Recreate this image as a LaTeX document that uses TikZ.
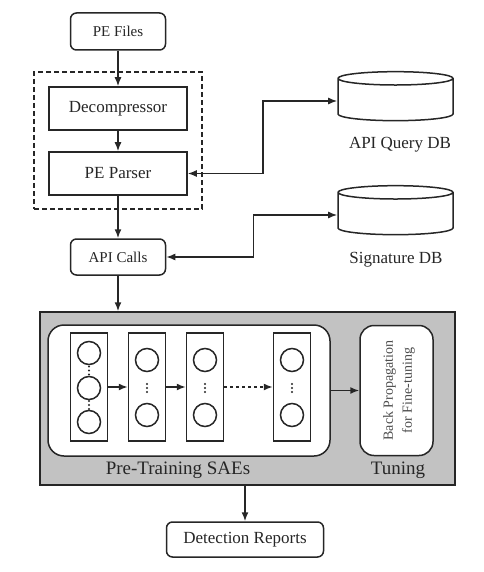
\documentclass[tikz,border=0pt]{standalone}
\usepackage{fontspec}
\setmainfont{Liberation Serif}
\usetikzlibrary{shapes.geometric,arrows.meta}

\newlength{\du}
\setlength{\du}{1pt}

\definecolor{ink}{rgb}{0.150000, 0.150000, 0.150000}
\definecolor{panelgray}{rgb}{0.760000, 0.760000, 0.760000}

\tikzset{
  >={Latex[length=9pt,width=7pt]},
  pebox/.style={draw, fill=white, rounded corners=6\du, minimum width=95\du, minimum height=37\du, font=\fontsize{15}{18}\selectfont},
  stagebox/.style={draw, minimum width=138\du, minimum height=43\du, font=\fontsize{17}{20}\selectfont},
  dbcyl/.style={draw, cylinder, shape border rotate=90, aspect=2, minimum width=115\du, minimum height=49\du},
  dblabel/.style={font=\fontsize{17}{20}\selectfont},
  layerbox/.style={draw, minimum width=37\du, minimum height=108\du},
  unitnode/.style={draw, circle, minimum size=23\du, inner sep=0pt},
  panel/.style={draw, fill=white, rounded corners=16\du},
  flow/.style={->},
  sync/.style={<->},
}

\begin{document}
\begin{tikzpicture}[color=ink, line width=1.5\du]
\pgftransformxscale{1.000000}
\pgftransformyscale{-1.000000}
\useasboundingbox (0\du,0\du) rectangle (483\du,572\du);
% unpacking stage
\node[pebox] (pef) at (118.000000\du,31.500000\du) {PE Files};
\node[draw, line width=2\du, dash pattern=on 5\du off 3\du, minimum width=168\du, minimum height=137\du] (unpack) at (118.000000\du,140.500000\du) {};
\node[stagebox] (dec) at (118.000000\du,108.500000\du) {Decompressor};
\node[stagebox] (par) at (118.000000\du,173.500000\du) {PE Parser};
\node[pebox, minimum height=36\du] (api) at (118.000000\du,257.000000\du) {API Calls};
% databases
\node[dbcyl] (qdb) at (395.500000\du,101.000000\du) {};
\node[dblabel] (qlab) at (400.000000\du,145.000000\du) {API Query DB};
\node[dbcyl] (sdb) at (395.500000\du,215.000000\du) {};
\node[dblabel] (slab) at (396.000000\du,260.000000\du) {Signature DB};
\draw[flow] (pef) -- (dec);
\draw[flow] (dec) -- (par);
\draw[flow] (par) -- (api);
\draw[sync] (par.east) -- ++(75\du,0) |- (qdb);
\draw[sync] (api.east) -- ++(87\du,0) |- (sdb);
% deep learning stage
\node[draw, fill=panelgray, minimum width=415\du, minimum height=173\du] (sae) at (247.500000\du,398.500000\du) {};
\node[panel, minimum width=282\du, minimum height=131\du] (pre) at (189.000000\du,390.500000\du) {};
\node[panel, rounded corners=14\du, minimum width=73\du, minimum height=130\du] (tune) at (396.500000\du,390.500000\du) {};
\node[rotate=90, align=center, font=\fontsize{14}{19}\selectfont, text=black!70] (bp) at (399.000000\du,390.500000\du) {Back Propagation\\for Fine-tuning};
\node[font=\fontsize{19}{22}\selectfont] (prelab) at (178.000000\du,470.000000\du) {Pre-Training SAEs};
\node[font=\fontsize{19}{22}\selectfont] (tunelab) at (398.000000\du,470.000000\du) {Tuning};
\foreach \n/\x in {1/89,2/147,3/205,4/292}
  \node[layerbox] (layer\n) at (\x\du,387\du) {};
\foreach \k/\y in {1/353,2/388,3/422}
  \node[unitnode] (in\k) at (89\du,\y\du) {};
\foreach \n/\x in {2/147,3/205,4/292} {
  \node[unitnode] (top\n) at (\x\du,360\du) {};
  \node[unitnode] (bot\n) at (\x\du,415\du) {};
}
\foreach \x/\y in {89/370.5,89/405,147/388,205/388,292/388}
  \foreach \d in {-4,0,4}
    \fill (\x\du,\y\du+\d\du) circle (1.1\du);
\draw[flow] (layer1) -- (layer2);
\draw[flow] (layer2) -- (layer3);
\draw[flow, dashed] (layer3) -- (layer4);
\draw[flow] (pre) -- (tune);
\draw[flow] (api) -- (api |- sae.north);
% output
\node[pebox, minimum width=157\du, minimum height=35\du, font=\fontsize{17}{20}\selectfont] (rep) at (245.000000\du,539.500000\du) {Detection Reports};
\draw[flow] (rep |- sae.south) -- (rep);
\end{tikzpicture}
\end{document}
